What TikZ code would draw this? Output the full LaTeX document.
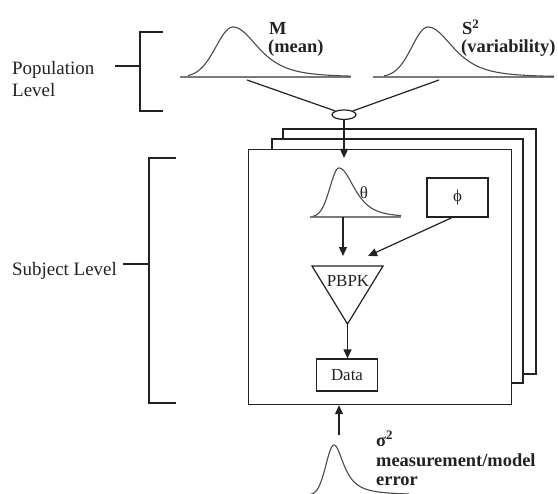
\documentclass[tikz,border=0pt]{standalone}
\usepackage{fontspec}
\setmainfont{Liberation Serif}
\usetikzlibrary{arrows.meta,shapes.geometric}

\definecolor{ink}{HTML}{222222}
\definecolor{curvegray}{HTML}{4a4a4a}
\definecolor{axisgray}{HTML}{7a7a7a}

% right-skewed density curve
% #1 peak x, #2 baseline y, #3 height, #4 left spread, #5 left length,
% #6 right spread, #7 right tail power, #8 right length
\newcommand\densitycurve[8]{%
  \draw[curve] plot[domain=-#5:0, samples=50, smooth]
      ({#1+\x},{#2-#3*exp(-(\x*\x)/(2*#4*#4))})
    -- plot[domain=0:#8, samples=90, smooth]
      ({#1+\x},{#2-#3/((1+(\x/#6)^2)^#7)});}

\begin{document}
\begin{tikzpicture}[x=1bp,y=-1bp,
  line/.style={draw=ink, line width=1.2bp},
  curve/.style={draw=curvegray, line width=1.1bp},
  axis/.style={draw=axisgray, line width=1.8bp},
  arr/.style={line, -{Triangle[length=9bp,width=8bp]}},
  bracket/.style={draw=ink, line width=1.3bp},
  frame/.style={draw=ink, line width=1.2bp, fill=white},
  lab/.style={font=\fontsize{19}{22}\selectfont, inner sep=0, text=ink},
  blab/.style={font=\fontsize{18.5}{20}\selectfont\bfseries, inner sep=0, text=ink},
  boxlab/.style={font=\fontsize{17}{20}\selectfont, text=ink}]
\useasboundingbox (0,0) rectangle (558,494);

% ---- population level ----
\node[lab, anchor=base west] (poplab1) at (12,75) {Population};
\node[lab, anchor=base west] (poplab2) at (12,96.5) {Level};
\draw[bracket] (163,32) -- (140,32) -- (140,111) -- (163,111);
\draw[bracket] (115,66) -- (140,66);

% mean distribution
\draw[axis] (180,77) -- (351,77);
\densitycurve{233}{77}{50}{17}{45}{46}{2}{118}
\node[blab, anchor=base west] (Mlab) at (269,35) {M};
\node[blab, anchor=base west] (Mdesc) at (268,53) {(mean)};

% variability distribution
\draw[axis] (373,77) -- (554,77);
\densitycurve{428}{77}{50}{16}{44}{46}{2}{126}
\node[blab, anchor=base west] (Slab) at (462,35) {S$^{\mathbf{2}}$};
\node[blab, anchor=base west] (Sdesc) at (461,53) {(variability)};

% hyperparameters join
\node[ellipse, line, minimum width=24bp, minimum height=9.5bp, inner sep=0] (join) at (344,114.7) {};
\coordinate (Mfoot) at (247,80);
\coordinate (Sfoot) at (439,80);
\draw[line] (Mfoot) -- (join.157);
\draw[line] (Sfoot) -- (join.23);

% ---- subject level ----
\node[lab, anchor=base west] (sublab) at (12,275) {Subject Level};
\draw[bracket] (176,158) -- (149,158) -- (149,403) -- (176,403);
\draw[bracket] (123,264) -- (149,264);

% stacked subject frames
\draw[frame] (283,129) rectangle (536,374);
\draw[frame] (272,139) rectangle (523,383);
\node[frame, minimum width=263bp, minimum height=255bp, anchor=north west, inner sep=0] (front) at (248,149) {};

% individual parameter distribution
\draw[axis] (310,217) -- (401,217);
\densitycurve{339}{217}{49}{9}{26}{28}{2}{62}
\node[lab, font=\fontsize{17}{20}\selectfont] (thlab) at (364,193) {θ};

\node[line, boxlab, minimum width=61bp, minimum height=39bp, inner sep=0] (phi) at (457.5,197.5) {ϕ};

% PBPK model
\coordinate (tl) at (312,266);
\coordinate (tr) at (383,266);
\coordinate (tb) at (347.5,324);
\draw[line] (tl) -- (tr) -- (tb) -- cycle;
\node[boxlab, inner sep=0] (pbpk) at (348,281) {PBPK};

\node[line, boxlab, minimum width=61bp, minimum height=32bp, inner sep=0] (data) at (347,375) {Data};

% connectors
\coordinate (thtop) at (344,158);
\coordinate (thbase) at (343,217);
\coordinate (pin1) at (343,256);
\coordinate (pin2) at (368,256);
\draw[arr] (join.south) -- (thtop);
\draw[arr] (thbase) -- (pin1);
\draw[arr] ([xshift=-5.5bp]phi.south) -- (pin2);
\draw[arr] (tb) -- (tb |- data.north);

% measurement error
\densitycurve{334}{495}{50}{8}{25}{13}{1.1}{75}
\coordinate (sigtop) at (339,435);
\draw[arr] (sigtop) -- (sigtop |- front.south);
\node[blab, anchor=base west] (siglab) at (376,446) {σ$^{\mathbf{2}}$};
\node[blab, anchor=base west] (errlab1) at (376,466.5) {measurement/model};
\node[blab, anchor=base west] (errlab2) at (376,485.5) {error};
\end{tikzpicture}
\end{document}
